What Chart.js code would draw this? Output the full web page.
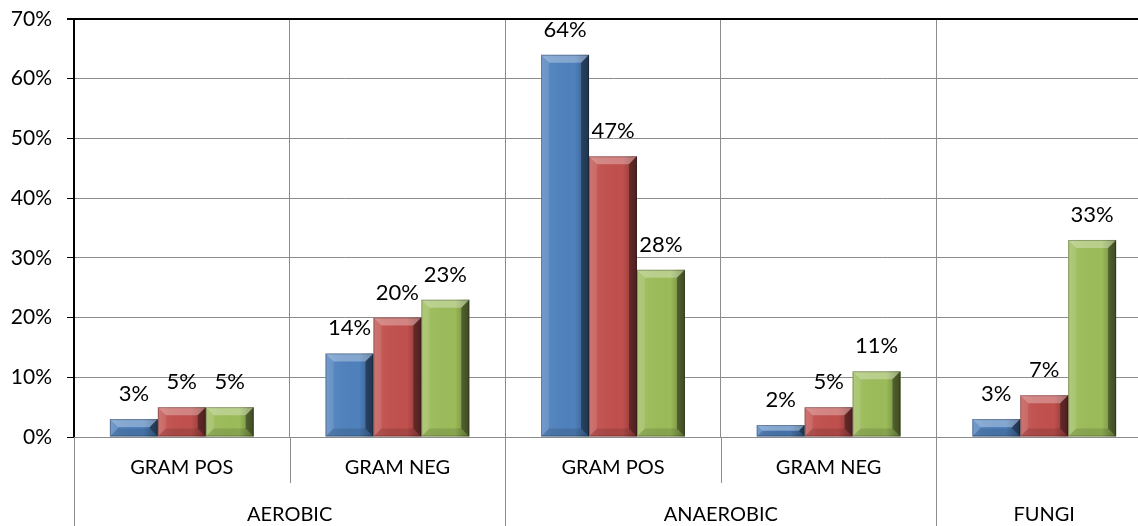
<!DOCTYPE html>
<html><head><meta charset="utf-8">
<script src="https://cdn.jsdelivr.net/npm/chart.js@4.4.1/dist/chart.umd.min.js"></script>
<style>html,body{margin:0;padding:0;background:#fff;overflow:hidden;width:1138px;height:526px}canvas{display:block}</style>
</head><body>
<canvas id="c" width="1160" height="526"></canvas>
<script>
// ---- data ----
const categories = ['GRAM POS', 'GRAM NEG', 'GRAM POS', 'GRAM NEG', ''];
const groups = ['AEROBIC', 'ANAEROBIC', 'FUNGI'];
const groupSizes = [2, 2, 1];
const seriesBlue = [3, 14, 64, 2, 3];
const seriesRed = [5, 20, 47, 5, 7];
const seriesGreen = [5, 23, 28, 11, 33];
const yTickValues = [0, 10, 20, 30, 40, 50, 60, 70];

const FONT = 'Lato, "Liberation Sans", sans-serif';
const GRID = '#8c8c8c';

function poly(ctx, pts, fill) {
  ctx.beginPath();
  ctx.moveTo(pts[0][0], pts[0][1]);
  for (let i = 1; i < pts.length; i++) ctx.lineTo(pts[i][0], pts[i][1]);
  ctx.closePath();
  ctx.fillStyle = fill;
  ctx.fill();
}

const bevelPlugin = {
  id: 'bevel',
  afterDatasetsDraw(chart) {
    const ctx = chart.ctx;
    ctx.save();
    chart.data.datasets.forEach((ds, di) => {
      const meta = chart.getDatasetMeta(di);
      meta.data.forEach(bar => {
        const p = bar.getProps(['x', 'y', 'base', 'width'], true);
        const l = p.x - p.width / 2, r = p.x + p.width / 2;
        const t = Math.min(p.y, p.base), bt = Math.max(p.y, p.base);
        const h = bt - t;
        if (h <= 0) return;
        const b = Math.min(8, h / 2);
        const g = ctx.createLinearGradient(l, 0, r, 0);
        g.addColorStop(0, 'rgba(255,255,255,0.12)');
        g.addColorStop(0.2, 'rgba(255,255,255,0.04)');
        g.addColorStop(0.7, 'rgba(0,0,0,0)');
        g.addColorStop(1, 'rgba(0,0,0,0.35)');
        ctx.fillStyle = g;
        ctx.fillRect(l, t, p.width, h);
        poly(ctx, [[l, t], [r, t], [r - b, t + b], [l + b, t + b]], 'rgba(255,255,255,0.30)');
        poly(ctx, [[r, t], [r, bt], [r - b, bt - b], [r - b, t + b]], 'rgba(0,0,0,0.38)');
        poly(ctx, [[l, t], [l + b, t + b], [l + b, bt - b], [l, bt]], 'rgba(255,255,255,0.10)');
        poly(ctx, [[l, bt], [r, bt], [r - b, bt - b], [l + b, bt - b]], 'rgba(0,0,0,0.12)');
        ctx.strokeStyle = 'rgba(0,0,0,0.25)';
        ctx.lineWidth = 1;
        ctx.strokeRect(l + 0.5, t + 0.5, p.width - 1, h - 1);
      });
    });
    ctx.fillStyle = '#000';
    ctx.font = '22px ' + FONT;
    ctx.textAlign = 'center';
    ctx.textBaseline = 'middle';
    chart.data.datasets.forEach((ds, di) => {
      const meta = chart.getDatasetMeta(di);
      meta.data.forEach((bar, i) => {
        const p = bar.getProps(['x', 'y'], true);
        ctx.fillText(ds.data[i] + '%', p.x, p.y - 25);
      });
    });
    ctx.restore();
  }
};

const groupPlugin = {
  id: 'groups',
  afterDraw(chart) {
    const ctx = chart.ctx;
    const xs = chart.scales.x;
    const area = chart.chartArea;
    const n = categories.length;
    const edge = k => {
      if (k <= 0) return area.left;
      if (k >= n) return area.right;
      return (xs.getPixelForValue(k - 1) + xs.getPixelForValue(k)) / 2;
    };
    ctx.save();
    ctx.strokeStyle = GRID;
    ctx.lineWidth = 1;
    const groupEdges = new Set([0]);
    let acc = 0;
    groupSizes.forEach(s => { acc += s; groupEdges.add(acc); });
    for (let k = 0; k <= n; k++) {
      const x = Math.round(edge(k)) + 0.5;
      const yEnd = groupEdges.has(k) ? chart.height : 483;
      ctx.beginPath();
      ctx.moveTo(x, area.bottom);
      ctx.lineTo(x, yEnd);
      ctx.stroke();
    }
    ctx.fillStyle = '#000';
    ctx.font = '20px ' + FONT;
    ctx.textAlign = 'center';
    ctx.textBaseline = 'middle';
    acc = 0;
    groups.forEach((g, gi) => {
      const x0 = edge(acc), x1 = edge(acc + groupSizes[gi]);
      ctx.fillText(g, (x0 + x1) / 2, 515);
      acc += groupSizes[gi];
    });
    ctx.restore();
  }
};

new Chart(document.getElementById('c'), {
  type: 'bar',
  data: {
    labels: categories,
    datasets: [
      { label: 'Series 1', data: seriesBlue, backgroundColor: '#4f81bd' },
      { label: 'Series 2', data: seriesRed, backgroundColor: '#c0504d' },
      { label: 'Series 3', data: seriesGreen, backgroundColor: '#9bbb59' }
    ]
  },
  options: {
    responsive: false,
    animation: false,
    devicePixelRatio: 1,
    layout: { padding: { top: 19, right: 8, left: 0, bottom: 0 } },
    plugins: { legend: { display: false }, tooltip: { enabled: false } },
    datasets: { bar: { barPercentage: 1, categoryPercentage: 0.667, borderWidth: 0 } },
    scales: {
      x: {
        grid: {
          offset: true,
          drawTicks: false,
          color: ctx => ctx.index === 0 ? 'rgba(0,0,0,0)' : GRID,
          lineWidth: 1
        },
        border: { color: GRID, width: 1 },
        ticks: { color: '#000', font: { family: FONT, size: 20 }, padding: 19, maxRotation: 0 },
        afterFit: s => { s.height = 89; s.paddingLeft = 0; s.paddingRight = 0; }
      },
      y: {
        min: 0, max: 70,
        afterBuildTicks: s => { s.ticks = yTickValues.map(v => ({ value: v })); },
        grid: {
          color: ctx => (ctx.tick && ctx.tick.value === 70) ? '#000' : GRID,
          lineWidth: ctx => (ctx.tick && ctx.tick.value === 70) ? 2 : 1,
          tickColor: '#000',
          tickLength: 7
        },
        border: { color: '#000', width: 2 },
        ticks: {
          color: '#000',
          font: { family: FONT, size: 21 },
          padding: 15,
          callback: v => v + '%'
        },
        afterFit: s => { s.width = 74; s.paddingTop = 0; s.paddingBottom = 0; }
      }
    }
  },
  plugins: [bevelPlugin, groupPlugin]
});
</script>
</body></html>
